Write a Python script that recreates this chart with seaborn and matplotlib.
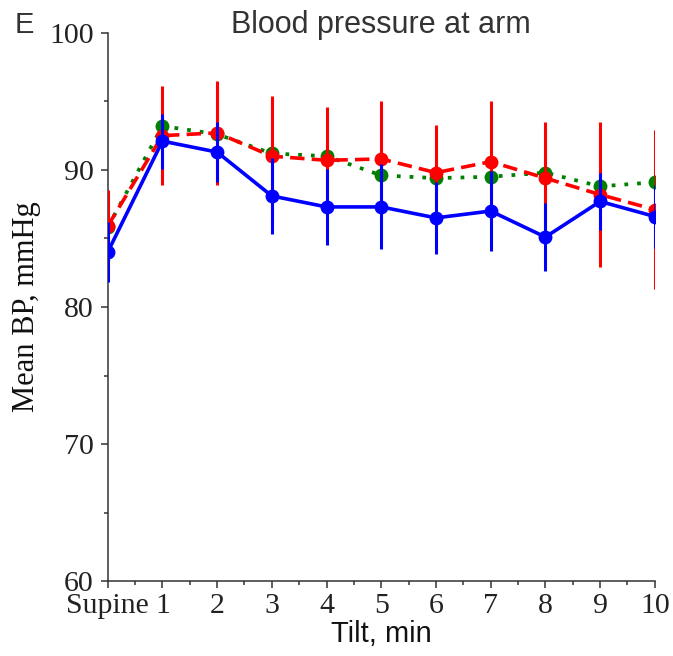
import numpy as np
import pandas as pd
import matplotlib
matplotlib.use('Agg')
import matplotlib.pyplot as plt
import seaborn as sns
from matplotlib.ticker import MultipleLocator

# Datos (minutos de inclinacion)
tiempo = [0, 1, 2, 3, 4, 5, 6, 7, 8, 9, 10]
etiquetas_x = ['Supine', '1', '2', '3', '4', '5', '6', '7', '8', '9', '10']

# Serie azul (linea continua)
azul_media = [84.0, 92.1, 91.3, 88.1, 87.3, 87.3, 86.5, 87.0, 85.1, 87.7, 86.6]
azul_error = [2.2, 2.0, 2.2, 2.8, 2.8, 3.1, 2.6, 2.9, 2.5, 2.05, 2.3]

# Serie roja (linea discontinua)
rojo_media = [85.9, 92.5, 92.7, 91.0, 90.7, 90.8, 89.8, 90.6, 89.4, 88.2, 87.1]
rojo_error = [2.6, 3.6, 3.8, 4.4, 3.9, 4.2, 3.5, 4.4, 4.1, 5.3, 5.8]

# Serie verde (linea punteada, sin barras de error)
verde_media = [85.8, 93.2, 92.6, 91.2, 91.0, 89.6, 89.4, 89.5, 89.8, 88.8, 89.1]

sns.set_style('ticks')
plt.rcParams['font.family'] = ['Liberation Sans', 'DejaVu Sans']
serif = ['Liberation Serif', 'DejaVu Serif']
gris = '#333333'

fig, ax = plt.subplots(figsize=(6.73, 6.56), dpi=100)
fig.subplots_adjust(left=0.160, right=0.973, bottom=0.114, top=0.950)

# Linea verde (al fondo)
sns.lineplot(x=tiempo, y=verde_media, ax=ax, color='#008000', linestyle=(0, (1, 2.4)),
             linewidth=2.7, marker='o', markersize=10, markeredgewidth=0, zorder=3)

# Linea roja con barras de error
ax.errorbar(tiempo, rojo_media, yerr=rojo_error, fmt='none', ecolor='#ff0000',
            elinewidth=2.2, capsize=0, zorder=4)
sns.lineplot(x=tiempo, y=rojo_media, ax=ax, color='#ff0000', linestyle=(0, (4, 2)),
             linewidth=2.6, marker='o', markersize=10, markeredgewidth=0, zorder=5)

# Linea azul con barras de error (al frente)
ax.errorbar(tiempo, azul_media, yerr=azul_error, fmt='none', ecolor='#0000ff',
            elinewidth=2.2, capsize=0, zorder=6)
sns.lineplot(x=tiempo, y=azul_media, ax=ax, color='#0000ff', linestyle='-',
             linewidth=2.6, marker='o', markersize=10, markeredgewidth=0, zorder=7)

# Ejes
ax.set_xlim(0, 10)
ax.set_ylim(60, 100)
ax.set_xticks(tiempo)
ax.set_xticklabels(etiquetas_x)
ax.set_yticks([60, 70, 80, 90, 100])
ax.xaxis.set_minor_locator(MultipleLocator(0.5))
ax.yaxis.set_minor_locator(MultipleLocator(5))
sns.despine(ax=ax)
for lado in ['left', 'bottom']:
    ax.spines[lado].set_color(gris)
    ax.spines[lado].set_linewidth(1.1)
ax.tick_params(which='major', length=5, width=1.1, color=gris, labelsize=21.5,
               labelcolor='#222222')
ax.tick_params(axis='x', which='major', pad=3.5)
ax.tick_params(axis='y', which='major', pad=5)
ax.tick_params(which='minor', length=3, width=1.1, color=gris)
for t in ax.get_xticklabels() + ax.get_yticklabels():
    t.set_family(serif)

# Etiquetas y titulo (posicion fija del titulo)
ax.set_title('Blood pressure at arm', fontsize=22, color=gris, y=1.0, pad=0)
ax.set_xlabel('Tilt, min', fontsize=21, color='#111111', labelpad=0.5)
ax.set_ylabel('Mean BP, mmHg', fontsize=22, family=serif, color='#111111', labelpad=6)
fig.text(0.022, 0.9497, 'E', fontsize=21, color=gris, va='baseline', ha='left')

plt.savefig('out.png', dpi=100)
